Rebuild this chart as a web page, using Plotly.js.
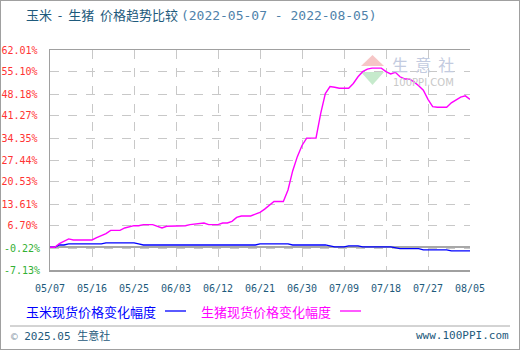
<!DOCTYPE html>
<html>
<head>
<meta charset="utf-8">
<script src="https://cdn.plot.ly/plotly-3.0.1.min.js"></script>
<style>
html,body{margin:0;padding:0;background:#fff;}
#wrap{position:relative;width:520px;height:350px;}
#chart{width:520px;height:350px;}
#frame{position:absolute;left:0;top:0;width:518px;height:348px;border:1px solid #a0a0a0;pointer-events:none;}
</style>
</head>
<body>
<div id="wrap"><div id="chart"></div><div id="frame"></div></div>
<script>
// ---- data ----
const cornDates = ["2022-05-07","2022-05-08","2022-05-09","2022-05-10","2022-05-11","2022-05-18","2022-05-19","2022-05-25","2022-05-26","2022-05-27","2022-06-20","2022-06-21","2022-06-27","2022-06-28","2022-07-05","2022-07-06","2022-07-07","2022-07-09","2022-07-10","2022-07-12","2022-07-13","2022-07-19","2022-07-20","2022-07-21","2022-07-25","2022-07-26","2022-07-31","2022-08-01","2022-08-05"];
const cornValues = [0,0,0.75,0.75,1.07,1.07,1.38,1.38,1.07,0.75,0.75,1.07,1.07,0.75,0.75,0.44,0.13,0.13,0.44,0.44,0.13,0.13,-0.19,-0.41,-0.41,-0.82,-0.82,-1.13,-1.13];

const hogDates = ["2022-05-07","2022-05-08","2022-05-09","2022-05-10","2022-05-11","2022-05-12","2022-05-16","2022-05-17","2022-05-18","2022-05-19","2022-05-20","2022-05-22","2022-05-23","2022-05-24","2022-05-25","2022-05-26","2022-05-27","2022-05-29","2022-05-30","2022-05-31","2022-06-01","2022-06-05","2022-06-06","2022-06-08","2022-06-09","2022-06-10","2022-06-12","2022-06-13","2022-06-14","2022-06-15","2022-06-16","2022-06-17","2022-06-19","2022-06-20","2022-06-21","2022-06-22","2022-06-23","2022-06-24","2022-06-26","2022-06-27","2022-06-28","2022-06-29","2022-06-30","2022-07-01","2022-07-03","2022-07-04","2022-07-05","2022-07-06","2022-07-07","2022-07-08","2022-07-10","2022-07-11","2022-07-12","2022-07-13","2022-07-14","2022-07-15","2022-07-17","2022-07-18","2022-07-19","2022-07-20","2022-07-21","2022-07-22","2022-07-23","2022-07-24","2022-07-25","2022-07-26","2022-07-27","2022-07-28","2022-07-29","2022-07-31","2022-08-01","2022-08-02","2022-08-03","2022-08-04","2022-08-05"];
const hogValues = [0,0,1.16,1.88,2.63,2.32,2.32,3.04,3.6,4.3,5.33,5.33,6.08,6.4,6.8,6.8,7.12,7.12,6.7,6.08,6.6,6.8,7.12,7.34,7.65,7.12,7.12,7.65,7.65,8.15,9.41,9.85,9.85,10.4,11.0,12.0,13.3,14.4,14.4,18.0,24.0,28.5,32.0,34.3,34.3,42.0,48.3,50.5,50.3,50.0,50.0,51.5,53.6,55.2,56.0,56.3,56.3,55.2,54.5,55.0,53.6,52.9,52.9,52.0,50.8,49.4,46.5,44.2,44.0,44.0,45.4,46.3,47.2,47.6,46.5];

const yTickVals = [62.01,55.10,48.18,41.27,34.35,27.44,20.53,13.61,6.70,-0.22,-7.13];
const xTickVals = ["2022-05-07","2022-05-16","2022-05-25","2022-06-03","2022-06-12","2022-06-21","2022-06-30","2022-07-09","2022-07-18","2022-07-27","2022-08-05"];
const xTickText = ["05/07","05/16","05/25","06/03","06/12","06/21","06/30","07/09","07/18","07/27","08/05"];

const cornName = "玉米现货价格变化幅度";
const hogName = "生猪现货价格变化幅度";
const titleMain = "玉米&nbsp;&nbsp;-&nbsp;&nbsp;生猪&nbsp;&nbsp;价格趋势比较";
const titleDates = "(2022-05-07 - 2022-08-05)";

// ---- layout helpers ----
const L = 50, R = 470, T = 50, B = 270;
const px = x => (x - L) / (R - L);
const py = y => (B - y) / (B - T);

const posVals = yTickVals.filter(v => v >= 0);
const negVals = yTickVals.filter(v => v < 0);
const fmt = v => v.toFixed(2) + "%";

const cjk = '"Noto Sans CJK SC", "Noto Sans", sans-serif';
const mono = '"DejaVu Sans Mono", "Liberation Mono", monospace';
const teal = "#1e5a7c";

const traces = [
  {x: cornDates, y: cornValues, type: "scatter", mode: "lines", name: cornName,
   line: {color: "#0000ff", width: 1.4}, hoverinfo: "skip"},
  {x: hogDates, y: hogValues, type: "scatter", mode: "lines", name: hogName,
   line: {color: "#ff00ff", width: 1.4}, hoverinfo: "skip"},
  // invisible helper so the second (green-label) y axis is drawn
  {x: [xTickVals[0]], y: [negVals[0]], yaxis: "y2", type: "scatter", mode: "markers",
   marker: {opacity: 0}, hoverinfo: "skip", showlegend: false}
];

const annotations = [
  {xref: "paper", yref: "paper", x: px(24), y: py(14), xanchor: "left", yanchor: "middle", showarrow: false,
   text: '<span style="color:' + teal + '">' + titleMain + '</span>&nbsp;' +
         '<span style="color:#4f82aa;font-family:\'DejaVu Sans Mono\'">' + titleDates + '</span>',
   font: {size: 13, family: cjk, color: teal}},
  // legend (text followed by line sample)
  {xref: "paper", yref: "paper", x: px(24), y: py(311), xanchor: "left", yanchor: "middle", showarrow: false,
   text: cornName, font: {size: 13, family: cjk, color: "#0000ff"}},
  {xref: "paper", yref: "paper", x: px(199), y: py(311), xanchor: "left", yanchor: "middle", showarrow: false,
   text: hogName, font: {size: 13, family: cjk, color: "#ff00ff"}},
  // footer
  {xref: "paper", yref: "paper", x: px(9), y: py(335), xanchor: "left", yanchor: "middle", showarrow: false,
   text: '<span style="color:#8a9aa8">©</span> 2025.05 <span style="font-family:\'Noto Sans CJK SC\'">生意社</span>',
   font: {size: 11, family: mono, color: teal}},
  {xref: "paper", yref: "paper", x: px(511), y: py(335), xanchor: "right", yanchor: "middle", showarrow: false,
   text: "www.100PPI.com", font: {size: 11, family: mono, color: teal}},
  // watermark
  {xref: "paper", yref: "paper", x: px(390), y: py(64), xanchor: "left", yanchor: "middle", showarrow: false,
   text: "生&nbsp;&nbsp;意&nbsp;&nbsp;社", font: {size: 16, family: cjk, color: "#c3cbe0"}},
  {xref: "paper", yref: "paper", x: px(391), y: py(82), xanchor: "left", yanchor: "middle", showarrow: false,
   text: "100PPI.COM", font: {size: 10, family: '"DejaVu Sans", sans-serif', color: "#c8c8c8"}}
];

const shapes = [
  // legend line samples
  {type: "line", xref: "paper", yref: "paper", x0: px(165), x1: px(186), y0: py(311), y1: py(311), line: {color: "#0000ff", width: 1.3}},
  {type: "line", xref: "paper", yref: "paper", x0: px(340), x1: px(361), y0: py(311), y1: py(311), line: {color: "#ff00ff", width: 1.3}},
  // separator
  {type: "line", xref: "paper", yref: "paper", x0: px(10), x1: px(510), y0: py(326), y1: py(326), line: {color: "#a8a8a8", width: 1}},
  // watermark triangles
  {type: "path", xref: "paper", yref: "paper", layer: "below",
   path: "M " + px(361) + "," + py(66) + " L " + px(372.5) + "," + py(55) + " L " + px(384) + "," + py(66) + " Z",
   fillcolor: "rgba(240,160,160,0.6)", line: {width: 0}},
  {type: "path", xref: "paper", yref: "paper", layer: "below",
   path: "M " + px(361) + "," + py(72) + " L " + px(372.5) + "," + py(85) + " L " + px(384) + "," + py(72) + " Z",
   fillcolor: "rgba(160,220,170,0.6)", line: {width: 0}}
];

const layout = {
  width: 520, height: 350,
  margin: {l: L, r: 520 - R, t: T, b: 350 - B, pad: 0},
  paper_bgcolor: "#ffffff", plot_bgcolor: "#ffffff",
  showlegend: false,
  xaxis: {
    type: "date", range: ["2022-05-07", "2022-08-05"],
    tickmode: "array", tickvals: xTickVals, ticktext: xTickText,
    showgrid: true, gridcolor: "#c8c8c8", griddash: "dash", gridwidth: 1,
    showline: true, linecolor: "#a0a0a0", linewidth: 1.5, mirror: true,
    ticks: "", ticklabelstandoff: 8,
    tickfont: {family: mono, size: 10, color: teal},
    zeroline: false, fixedrange: true
  },
  yaxis: {
    range: [-7.13, 62.01],
    tickmode: "array", tickvals: yTickVals,
    ticktext: yTickVals.map(v => v >= 0 ? fmt(v) : ""),
    showgrid: true, gridcolor: "#c8c8c8", griddash: "dash", gridwidth: 1,
    showline: true, linecolor: "#a0a0a0", linewidth: 1.5,
    ticks: "", ticklabelstandoff: 9,
    tickfont: {family: mono, size: 10, color: "#ff3333"},
    zeroline: true, zerolinecolor: "#a8a8a8", zerolinewidth: 2,
    fixedrange: true
  },
  yaxis2: {
    overlaying: "y", side: "left",
    range: [-7.13, 62.01],
    tickmode: "array", tickvals: negVals, ticktext: negVals.map(fmt),
    showgrid: false, showline: false, zeroline: false,
    ticks: "", ticklabelstandoff: 9,
    tickfont: {family: mono, size: 10, color: "#33b033"},
    fixedrange: true
  },
  annotations: annotations,
  shapes: shapes
};

Plotly.newPlot("chart", traces, layout, {displayModeBar: false, staticPlot: true});
</script>
</body>
</html>
